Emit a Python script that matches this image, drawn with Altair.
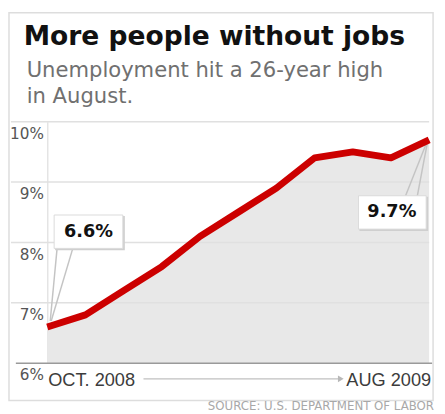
import altair as alt
import pandas as pd

# ---- data ----
months = ["Oct 2008", "Nov 2008", "Dec 2008", "Jan 2009", "Feb 2009", "Mar 2009",
          "Apr 2009", "May 2009", "Jun 2009", "Jul 2009", "Aug 2009"]
rates = [6.6, 6.8, 7.2, 7.6, 8.1, 8.5, 8.9, 9.4, 9.5, 9.4, 9.7]
tick_values = [6, 7, 8, 9, 10]
grid_values = [7, 8, 9, 10]

title_text = "More people without jobs"
subtitle_lines = ["Unemployment hit a 26-year high", "in August."]
start_label = "OCT. 2008"
end_label = "AUG 2009"
source_text = "SOURCE: U.S. DEPARTMENT OF LABOR"

first_month, first_rate, first_label = months[0], rates[0], "6.6%"
last_month, last_rate, last_label = months[-1], rates[-1], "9.7%"

W, H = 389, 246
FONT = "DejaVu Sans"
FONT2 = "Liberation Sans"

df = pd.DataFrame({"month": months, "rate": rates})
grid_df = pd.DataFrame({"g": grid_values})
one = pd.DataFrame({"a": [0]})
first_df = pd.DataFrame({"month": [first_month], "rate": [first_rate], "label": [first_label]})
last_df = pd.DataFrame({"month": [last_month], "rate": [last_rate], "label": [last_label]})
start_df = pd.DataFrame({"month": [first_month], "label": [start_label]})
end_df = pd.DataFrame({"month": [last_month], "label": [end_label]})

yaxis = alt.Axis(
    values=tick_values, labelExpr="datum.value + '%'", ticks=False, grid=False,
    domain=True, domainColor="#e4e4e4", domainWidth=1.5,
    labelBaseline="top", labelOffset=5, labelPadding=4,
    labelFont=FONT, labelColor="#555555", labelFontSize=15.5,
    title=None,
)

xsc = alt.Scale(type="point", padding=0, domain=months)
ysc = alt.Scale(domain=[6, 10], zero=False, nice=False)
X = alt.X("month:O", scale=xsc, axis=None)
X2 = alt.X2("month")
Y = alt.Y("rate:Q", scale=ysc, axis=yaxis)
Y2 = alt.Y2("rate")

border = alt.Chart(one).mark_rect(fillOpacity=0, stroke="#dddddd", strokeWidth=1.5).encode(
    x=alt.value(-39), x2=alt.value(393), y=alt.value(-111), y2=alt.value(284))

area = alt.Chart(df).mark_area(color="#e8e8e8").encode(x=X, y=Y, y2=alt.datum(6))

grid = alt.Chart(grid_df).mark_rule(color="#e0e0e0", strokeWidth=1.5).encode(
    y=alt.Y("g:Q", scale=ysc, axis=yaxis), x=alt.value(-37), x2=alt.value(W))

base_rule = alt.Chart(one).mark_rule(color="#9a9a9a", strokeWidth=1.5).encode(
    y=alt.YDatum(6, scale=ysc, axis=yaxis), x=alt.value(-32), x2=alt.value(W + 3))

def pointer(d, xo, x2o, yo, y2o):
    return alt.Chart(d).mark_rule(color="#c4c4c4", strokeWidth=1.5, xOffset=xo, x2Offset=x2o,
                                  yOffset=yo, y2Offset=y2o).encode(x=X, x2=X2, y=Y, y2=Y2)

ptr = [
    pointer(first_df, 10, 3, -80, -6),
    pointer(first_df, 26, 4, -80, -6),
    pointer(last_df, -24, -3, 57, 4),
    pointer(last_df, -12, -2, 57, 4),
]

line = alt.Chart(df).mark_line(color="#cc0000", strokeWidth=7, strokeJoin="round").encode(x=X, y=Y)

def box(d, xo, x2o, yo, y2o, tdx, tdy):
    shadow = alt.Chart(d).mark_rect(color="#cfcfcf", xOffset=xo + 1, x2Offset=x2o + 2,
                                    yOffset=yo + 1, y2Offset=y2o + 2).encode(x=X, x2=X2, y=Y, y2=Y2)
    rect = alt.Chart(d).mark_rect(color="white", stroke="#dadada", strokeWidth=1,
                                  xOffset=xo, x2Offset=x2o, yOffset=yo, y2Offset=y2o).encode(
        x=X, x2=X2, y=Y, y2=Y2)
    txt = alt.Chart(d).mark_text(font=FONT, fontSize=18, fontWeight="bold", color="#111111",
                                 dx=tdx, dy=tdy, align="center", baseline="middle").encode(
        x=X, y=Y, text="label:N")
    return [shadow, rect, txt]

boxes = box(first_df, 7, 77, -114, -80, 42, -97) + box(last_df, -72, -3, 57, 91, -38, 74)

start_txt = alt.Chart(start_df).mark_text(font=FONT2, fontSize=18.5, color="#3c3c3c", align="left",
                                          baseline="alphabetic", dx=1).encode(
    x=X, y=alt.value(269), text="label:N")
end_txt = alt.Chart(end_df).mark_text(font=FONT2, fontSize=18.5, color="#3c3c3c", align="right",
                                      baseline="alphabetic", dx=2).encode(
    x=X, y=alt.value(269), text="label:N")
arrow = alt.Chart(one).mark_rule(color="#c0c0c0", strokeWidth=1.5).encode(
    x=alt.value(98), x2=alt.value(297), y=alt.value(262))
arrow_head = alt.Chart(end_df).mark_point(shape="triangle-right", filled=True, size=45,
                                          color="#b8b8b8", opacity=1, xOffset=-90).encode(
    x=X, y=alt.value(262))

title = alt.Chart(one).mark_text(font=FONT, fontSize=27, fontWeight="bold", color="#111111",
                                 align="left", baseline="alphabetic").encode(
    x=alt.value(-24), y=alt.value(-78), text=alt.value(title_text))
subtitle = alt.Chart(one).mark_text(font=FONT, fontSize=21.5, color="#707070", align="left",
                                    baseline="alphabetic", lineHeight=26).encode(
    x=alt.value(-21), y=alt.value(-45), text=alt.value(subtitle_lines))
source = alt.Chart(one).mark_text(font=FONT, fontSize=12, color="#a8a8a8", align="right",
                                  baseline="alphabetic").encode(
    x=alt.value(394), y=alt.value(294), text=alt.value(source_text))

chart = alt.layer(
    border, area, grid, base_rule, *ptr, line, *boxes,
    start_txt, end_txt, arrow, arrow_head, title, subtitle, source,
).properties(
    width=W, height=H,
    autosize=alt.AutoSizeParams(type="none"),
    padding={"left": 40, "top": 112, "right": 8, "bottom": 48},
    background="white",
).configure_view(strokeWidth=0)

chart.save("out.html", embed_options={"renderer": "svg", "actions": False})
